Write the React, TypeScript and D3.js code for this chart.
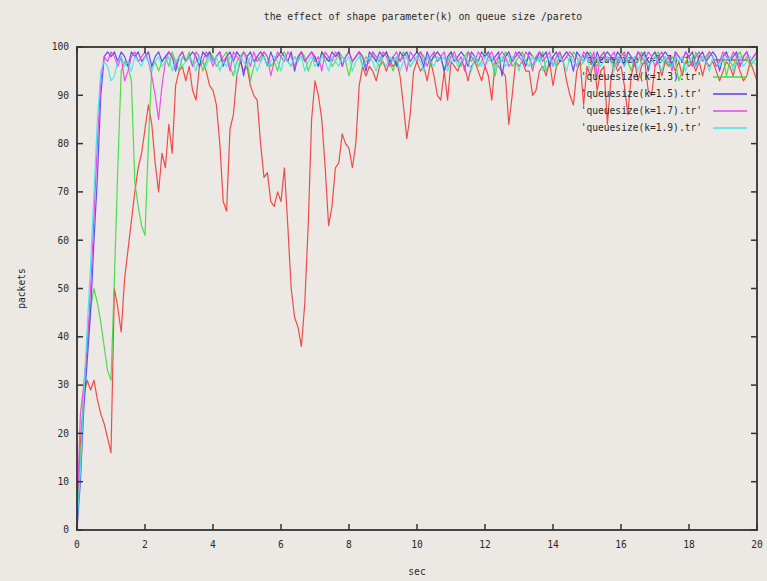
import React from "react";
import * as d3 from "d3";

// Queue size over time for different Pareto shape parameters (sampled every 0.1 s)
const SAMPLE_STEP = 0.1;

const seriesLabels = [
  "'queuesize(k=1.1).tr'",
  "'queuesize(k=1.3).tr'",
  "'queuesize(k=1.5).tr'",
  "'queuesize(k=1.7).tr'",
  "'queuesize(k=1.9).tr'",
];

const queueK11 = [
  1, 18, 28, 31, 29, 31, 27, 24, 22, 19,
  16, 50, 46, 41, 52, 58, 64, 70, 75, 78,
  83, 88, 84, 76, 70, 78, 75, 84, 78, 92,
  95, 96, 93, 96, 91, 89, 96, 97, 95, 92,
  91, 88, 80, 68, 66, 83, 86, 94, 97, 95,
  96, 92, 90, 89, 80, 73, 74, 68, 67, 70,
  68, 75, 63, 50, 44, 42, 38, 47, 63, 85,
  93, 90, 85, 75, 63, 67, 75, 76, 82, 80,
  79, 75, 80, 92, 96, 94, 96, 95, 93, 96,
  97, 95, 97, 96, 97, 94, 88, 81, 86, 95,
  97, 95, 96, 93, 97, 94, 90, 89, 95, 89,
  97, 96, 95, 97, 96, 93, 96, 97, 95, 93,
  96, 94, 89, 97, 96, 95, 94, 84, 90, 97,
  96, 97, 95, 95, 90, 91, 95, 96, 94, 97,
  92, 96, 97, 97, 93, 90, 88, 95, 97, 88,
  96, 94, 97, 91, 95, 96, 84, 93, 97, 95,
  96, 92, 86, 94, 97, 93, 96, 97, 91, 90,
  96, 97, 94, 97, 96, 97, 95, 97, 94, 97,
  96, 97, 95, 97, 94, 97, 96, 97, 95, 93,
  95, 97, 96, 94, 97, 95, 93, 94, 97, 95,
  93,
];

const queueK13 = [
  2, 15, 28, 38, 46, 50, 47, 43, 38, 33,
  31, 52, 75, 95, 97, 96, 93, 72, 67, 63,
  61, 80, 96, 97, 95, 97, 98, 96, 99, 97,
  95, 98, 97, 99, 96, 97, 98, 95, 97, 99,
  98, 96, 97, 98, 99, 96, 94, 97, 98, 99,
  97, 93, 96, 98, 97, 99, 98, 96, 97, 95,
  98, 99, 97, 96, 98, 97, 99, 98, 95, 97,
  98, 96, 99, 97, 98, 96, 97, 99, 98, 97,
  94, 97, 98, 99, 96, 98, 97, 99, 97, 96,
  98, 99, 97, 95, 98, 97, 99, 98, 96, 97,
  98, 99, 97, 98, 96, 99, 97, 98, 95, 97,
  99, 98, 97, 96, 98, 99, 97, 98, 96, 97,
  99, 98, 97, 94, 98, 97, 99, 98, 96, 97,
  98, 99, 97, 98, 96, 98, 97, 99, 95, 97,
  98, 96, 99, 97, 98, 97, 99, 98, 96, 97,
  98, 99, 97, 96, 98, 99, 97, 98, 96, 97,
  99, 98, 97, 95, 98, 97, 99, 98, 96, 97,
  98, 99, 97, 98, 96, 98, 97, 93, 95, 97,
  98, 96, 99, 97, 98, 97, 99, 98, 96, 97,
  98, 94, 97, 96, 98, 99, 97, 98, 96, 97,
  98,
];

const queueK15 = [
  0, 10, 25, 35, 45, 60, 73, 90, 98, 99,
  98, 99, 97, 99, 98, 96, 99, 98, 99, 97,
  98, 99, 96, 98, 99, 97, 98, 99, 98, 95,
  98, 99, 97, 98, 99, 98, 96, 99, 98, 99,
  97, 98, 99, 96, 98, 99, 97, 99, 98, 94,
  98, 99, 97, 98, 99, 98, 96, 99, 97, 98,
  99, 98, 97, 99, 95, 98, 99, 97, 98, 99,
  98, 96, 99, 98, 97, 99, 98, 99, 96, 98,
  99, 97, 98, 99, 98, 95, 99, 98, 97, 99,
  98, 99, 97, 98, 96, 99, 98, 99, 97, 98,
  99, 98, 96, 99, 97, 98, 99, 98, 95, 98,
  99, 97, 98, 99, 98, 96, 99, 98, 97, 99,
  98, 99, 97, 98, 99, 94, 98, 99, 97, 98,
  99, 98, 96, 99, 98, 97, 99, 98, 99, 96,
  98, 99, 97, 98, 99, 98, 95, 99, 98, 97,
  99, 98, 96, 99, 97, 98, 99, 98, 97, 99,
  98, 96, 99, 98, 97, 99, 98, 99, 95, 98,
  99, 97, 98, 99, 98, 96, 99, 98, 97, 99,
  98, 99, 96, 98, 99, 97, 98, 99, 98, 95,
  98, 99, 97, 98, 99, 96, 98, 99, 97, 98,
  99,
];

const queueK17 = [
  3, 24, 30, 38, 50, 65, 80, 93, 98, 97,
  99, 98, 96, 98, 93, 95, 98, 99, 97, 98,
  99, 97, 94, 90, 85, 92, 97, 99, 98, 96,
  98, 99, 97, 98, 96, 99, 98, 97, 99, 98,
  96, 98, 99, 97, 98, 95, 99, 98, 97, 99,
  98, 96, 99, 97, 98, 99, 98, 94, 97, 99,
  98, 97, 99, 98, 96, 98, 99, 97, 98, 99,
  97, 98, 95, 99, 98, 97, 99, 98, 96, 98,
  99, 97, 98, 99, 98, 96, 97, 99, 98, 97,
  99, 98, 96, 98, 99, 97, 98, 95, 99, 98,
  97, 99, 98, 96, 98, 99, 97, 98, 99, 96,
  98, 99, 97, 98, 95, 99, 98, 97, 99, 98,
  96, 98, 99, 97, 98, 99, 98, 96, 97, 99,
  98, 97, 99, 98, 95, 98, 99, 97, 98, 99,
  96, 98, 99, 97, 98, 99, 98, 96, 97, 99,
  98, 97, 99, 94, 98, 99, 97, 98, 99, 96,
  98, 99, 97, 98, 96, 99, 98, 97, 99, 98,
  96, 98, 99, 97, 98, 95, 99, 98, 97, 99,
  98, 96, 98, 99, 97, 98, 99, 98, 96, 97,
  99, 98, 97, 99, 98, 96, 98, 99, 97, 98,
  99,
];

const queueK19 = [
  1, 12, 28, 42, 55, 70, 85, 95, 97, 96,
  93, 94, 97, 98, 96, 97, 95, 98, 97, 96,
  98, 97, 95, 97, 98, 96, 97, 98, 95, 97,
  98, 96, 97, 98, 97, 95, 98, 97, 96, 98,
  97, 98, 95, 97, 96, 98, 97, 94, 98, 97,
  96, 98, 97, 95, 97, 98, 96, 97, 98, 97,
  95, 98, 97, 96, 98, 97, 98, 95, 97, 98,
  96, 97, 98, 97, 95, 98, 97, 96, 98, 97,
  98, 95, 97, 98, 96, 97, 98, 97, 95, 98,
  97, 96, 98, 97, 98, 95, 97, 98, 96, 97,
  98, 97, 95, 98, 97, 96, 98, 97, 98, 95,
  97, 98, 96, 97, 98, 97, 95, 98, 97, 96,
  98, 97, 98, 95, 97, 98, 96, 97, 98, 97,
  95, 98, 97, 96, 98, 97, 98, 95, 97, 98,
  96, 97, 98, 97, 95, 98, 97, 96, 98, 97,
  98, 95, 97, 98, 96, 97, 98, 97, 95, 98,
  97, 96, 98, 97, 98, 95, 97, 98, 96, 97,
  98, 97, 95, 98, 97, 96, 98, 97, 98, 95,
  97, 98, 96, 97, 98, 97, 95, 98, 97, 96,
  98, 97, 98, 95, 97, 98, 96, 97, 98, 97,
  96,
];

const seriesValues = [queueK11, queueK13, queueK15, queueK17, queueK19];
const seriesColors = ["#ee3a3a", "#3cdc3c", "#5a3cf0", "#ee3cee", "#3ce8e8"];

const xTicks = [0, 2, 4, 6, 8, 10, 12, 14, 16, 18, 20];
const yTicks = [0, 10, 20, 30, 40, 50, 60, 70, 80, 90, 100];

const titleText = "the effect of shape parameter(k) on queue size /pareto";
const xLabel = "sec";
const yLabel = "packets";

const W = 767;
const H = 581;
const margin = { left: 77, right: 10, top: 47, bottom: 51 };
const FONT = "'DejaVu Sans Mono', monospace";

export default function App() {
  const x = d3
    .scaleLinear()
    .domain([0, 20])
    .range([margin.left, W - margin.right]);
  const y = d3
    .scaleLinear()
    .domain([0, 100])
    .range([H - margin.bottom, margin.top]);

  const line = d3
    .line<number>()
    .x((_, i) => x(i * SAMPLE_STEP))
    .y((v) => y(v));

  const [x0, x1] = x.range();
  const [y0, y1] = y.range();
  const tickLen = 6;
  const textFill = "#2a2a2a";

  const keyRight = 702;
  const keySampleX0 = 713;
  const keySampleX1 = 747;
  const keyTop = 60;
  const keyStep = 17;

  return (
    <svg
      width={W}
      height={H}
      style={{ position: "absolute", left: 0, top: 0, background: "#ece9e4" }}
    >
      <rect x={0} y={0} width={W} height={H} fill="#ece9e4" />

      <text
        x={(x0 + x1) / 2 + 6}
        y={20}
        textAnchor="middle"
        fontFamily={FONT}
        fontSize={9.8}
        fill={textFill}
      >
        {titleText}
      </text>

      {/* key entry followed by its curve, in plotting order */}
      {seriesValues.map((vals, si) => {
        const ky = keyTop + si * keyStep;
        return (
          <g key={si}>
            <text
              x={keyRight}
              y={ky}
              dy="0.35em"
              textAnchor="end"
              fontFamily={FONT}
              fontSize={9.6}
              fill={textFill}
            >
              {seriesLabels[si]}
            </text>
            <line
              x1={keySampleX0}
              x2={keySampleX1}
              y1={ky}
              y2={ky}
              stroke={seriesColors[si]}
              strokeWidth={1.3}
            />
            <path
              d={line(vals) ?? ""}
              fill="none"
              stroke={seriesColors[si]}
              strokeWidth={1.2}
              strokeLinejoin="round"
              opacity={0.9}
            />
          </g>
        );
      })}

      {/* border with mirrored inward ticks */}
      <rect
        x={x0}
        y={y1}
        width={x1 - x0}
        height={y0 - y1}
        fill="none"
        stroke="#333"
        strokeWidth={1.8}
      />
      {xTicks.map((t) => (
        <g key={"xt" + t}>
          <line x1={x(t)} x2={x(t)} y1={y0} y2={y0 - tickLen} stroke="#333" strokeWidth={1.5} />
          <line x1={x(t)} x2={x(t)} y1={y1} y2={y1 + tickLen} stroke="#333" strokeWidth={1.5} />
          <text
            x={x(t)}
            y={y0 + 18}
            textAnchor="middle"
            fontFamily={FONT}
            fontSize={9.6}
            fill={textFill}
          >
            {t}
          </text>
        </g>
      ))}
      {yTicks.map((t) => (
        <g key={"yt" + t}>
          <line x1={x0} x2={x0 + tickLen} y1={y(t)} y2={y(t)} stroke="#333" strokeWidth={1.5} />
          <line x1={x1} x2={x1 - tickLen} y1={y(t)} y2={y(t)} stroke="#333" strokeWidth={1.5} />
          <text
            x={x0 - 8}
            y={y(t)}
            dy="0.35em"
            textAnchor="end"
            fontFamily={FONT}
            fontSize={9.6}
            fill={textFill}
          >
            {t}
          </text>
        </g>
      ))}

      <text
        x={(x0 + x1) / 2}
        y={H - 6}
        textAnchor="middle"
        fontFamily={FONT}
        fontSize={9.6}
        fill={textFill}
      >
        {xLabel}
      </text>
      <text
        transform={`translate(25, ${(y0 + y1) / 2}) rotate(-90)`}
        textAnchor="middle"
        fontFamily={FONT}
        fontSize={9.6}
        fill={textFill}
      >
        {yLabel}
      </text>
    </svg>
  );
}
